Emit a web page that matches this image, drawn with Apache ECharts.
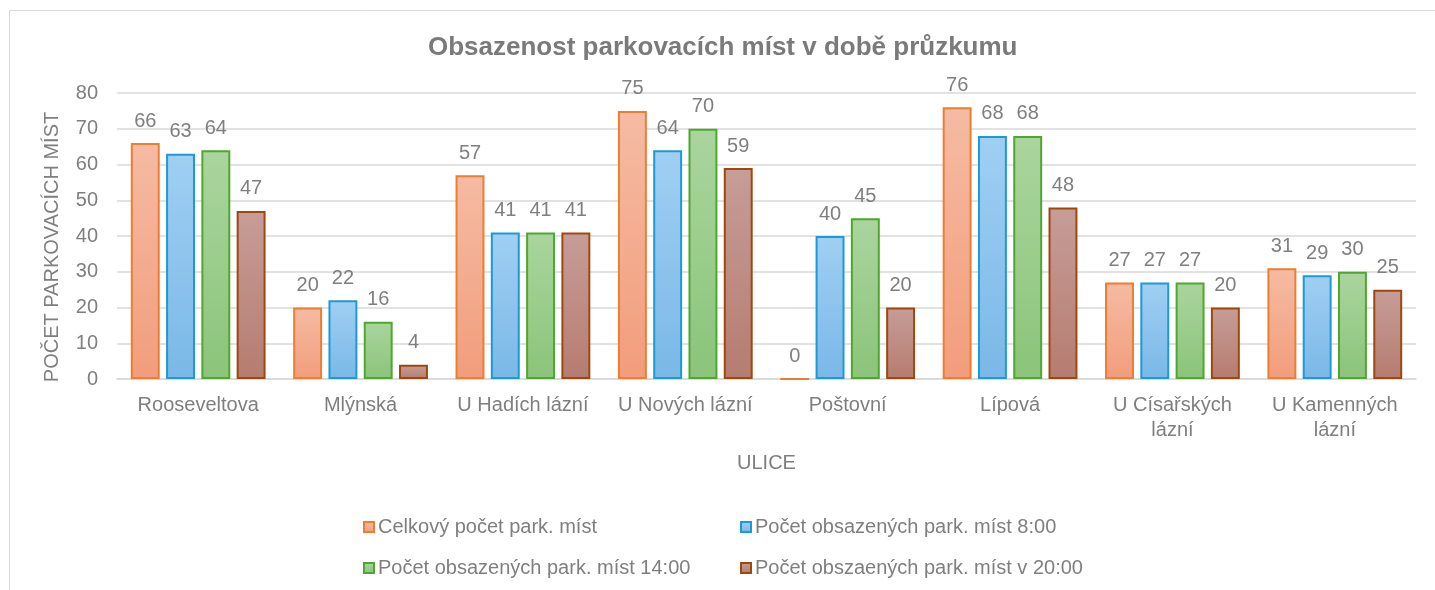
<!DOCTYPE html>
<html>
<head>
<meta charset="utf-8">
<script src="https://cdn.jsdelivr.net/npm/echarts@6/dist/echarts.min.js"></script>
<style>
  html, body { margin: 0; padding: 0; background: #fff; }
  #chart { width: 1435px; height: 590px; }
</style>
</head>
<body>
<div id="chart"></div>
<script>
// ulice
const categories = [
  'Rooseveltova', 'Mlýnská', 'U Hadích lázní', 'U Nových lázní',
  'Poštovní', 'Lípová', 'U Císařských\nlázní', 'U Kamenných\nlázní'
]
const seriesNames = [
  'Celkový počet park. míst',
  'Počet obsazených park. míst 8:00',
  'Počet obsazených park. míst 14:00',
  'Počet obszaených park. míst v 20:00'
]
const celkem = [66, 20, 57, 75, 0, 76, 27, 31]
const obsazeno8 = [63, 22, 41, 64, 40, 68, 27, 29]
const obsazeno14 = [64, 16, 41, 70, 45, 68, 27, 30]
const obsazeno20 = [47, 4, 41, 59, 20, 48, 20, 25]
const yTicks = [0, 10, 20, 30, 40, 50, 60, 70, 80]

const textColor = '#7F7F7F'
const font = 'Liberation Sans, Arial, sans-serif'

// barvy: [okraj, vrch, spodek]
const palette = [
  ['#ED7D31', '#F5BBA3', '#F29D7C'],
  ['#1C9AD6', '#A0CFF3', '#7AB8E7'],
  ['#4EA72E', '#AAD59E', '#8BC47A'],
  ['#9E480E', '#C69D98', '#B67C70']
]

const grad = (c) => new echarts.graphic.LinearGradient(0, 0, 0, 1, [
  { offset: 0, color: c[1] },
  { offset: 1, color: c[2] }
])

const dataSets = [celkem, obsazeno8, obsazeno14, obsazeno20]

const chart = echarts.init(document.getElementById('chart'))

// pozice legendy (2 x 2)
const legendPos = [
  { left: 358, top: 512 },
  { left: 735, top: 512 },
  { left: 358, top: 553 },
  { left: 735, top: 553 }
]

const option = {
  animation: false,
  textStyle: { fontFamily: font },
  title: {
    text: 'Obsazenost parkovacích míst v době průzkumu',
    left: 423,
    top: 30,
    textStyle: { fontSize: 26, fontWeight: 'bold', color: '#7A7A7A', fontFamily: font }
  },
  graphic: [{
    type: 'rect',
    shape: { x: 9.5, y: 10.5, width: 1440, height: 600 },
    style: { fill: 'none', stroke: '#D9D9D9', lineWidth: 1 },
    silent: true
  }],
  legend: seriesNames.map((name, i) => ({
    data: [name],
    left: legendPos[i].left,
    top: legendPos[i].top,
    itemWidth: 10,
    itemHeight: 10,
    icon: 'rect',
    textStyle: { fontSize: 20, color: textColor, fontFamily: font, padding: [0, 0, 0, -1] }
  })),
  grid: { left: 117, right: 19, top: 93, bottom: 211 },
  xAxis: {
    type: 'category',
    data: categories,
    name: 'ULICE',
    nameLocation: 'middle',
    nameGap: 74,
    nameTextStyle: { fontSize: 20, color: textColor },
    axisLine: { lineStyle: { color: '#D9D9D9', width: 1.5 } },
    axisTick: { show: false },
    axisLabel: { interval: 0, fontSize: 20, color: textColor, margin: 14, lineHeight: 25 }
  },
  yAxis: {
    type: 'value',
    min: 0,
    max: 80,
    interval: 10,
    name: 'POČET PARKOVACÍCH MÍST',
    nameLocation: 'middle',
    nameGap: 55,
    nameTextStyle: { fontSize: 20, color: textColor, padding: [0, 22, 0, 0] },
    axisLine: { show: false },
    axisTick: { show: false },
    axisLabel: {
      fontSize: 20, color: textColor, margin: 19,
      formatter: (v) => yTicks.includes(v) ? String(v) : ''
    },
    splitLine: { lineStyle: { color: '#D9D9D9', width: 1.5 } }
  },
  series: seriesNames.map((name, i) => ({
    name: name,
    type: 'bar',
    data: dataSets[i],
    barGap: '22%',
    barCategoryGap: '17%',
    itemStyle: {
      color: grad(palette[i]),
      borderColor: palette[i][0],
      borderWidth: 2
    },
    label: {
      show: true,
      position: 'top',
      distance: 12,
      fontSize: 20,
      color: textColor,
      fontFamily: font
    }
  }))
}

chart.setOption(option)
</script>
</body>
</html>
